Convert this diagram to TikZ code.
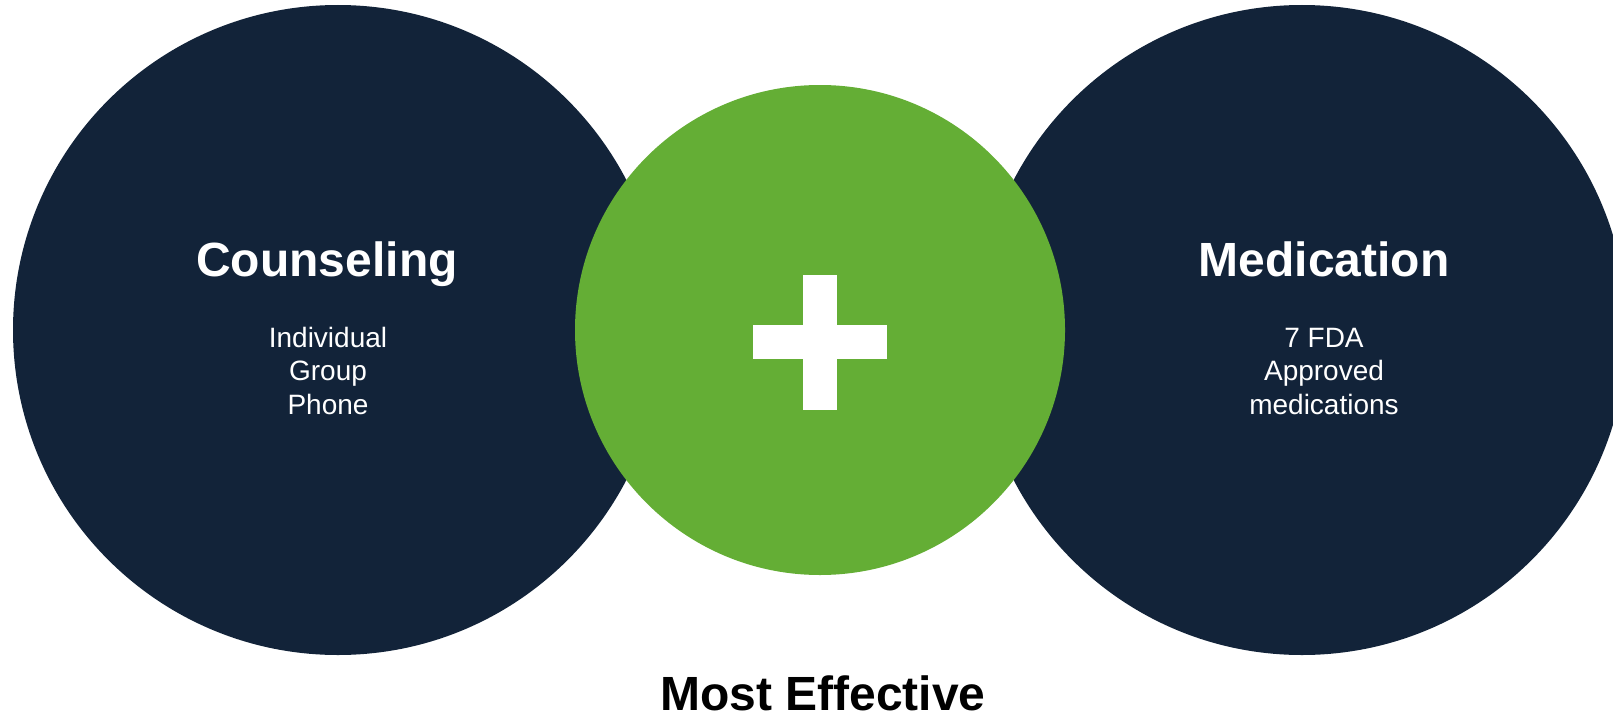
\documentclass[tikz,border=0pt]{standalone}
\usepackage{fontspec}
\setmainfont{Liberation Sans}
\usetikzlibrary{positioning}
\definecolor{navy}{HTML}{122339}
\definecolor{leaf}{HTML}{64AE35}

\tikzset{
  bigdot/.style={circle, fill=navy, minimum size=650pt, inner sep=0pt},
  middot/.style={circle, fill=leaf, minimum size=490pt, inner sep=0pt},
  head/.style={text=white, font=\fontsize{48}{52}\selectfont\bfseries, anchor=base, inner sep=0pt},
  items/.style={text=white, font=\fontsize{28}{33.7}\selectfont, align=center, anchor=base, inner sep=0pt}
}

\begin{document}
\begin{tikzpicture}[x=1pt,y=-1pt]
	\clip (0,0) rectangle (1613,717);
	\node[bigdot] (C) at (338,330) {};
	\node[bigdot] (M) at (1302,330) {};
	\node[middot] (P) at (820,330) {};
	\begin{scope}[shift={(P.center)}]
	\fill[white] (-17,-55.5) rectangle (17,79.5);
	\fill[white] (-67,-5) rectangle (67,29);
	\end{scope}
	\node[head] (Ctag) at (327,276) {Counseling};
	\node[items] (Clist) at (328,414.5) {Individual\\Group\\Phone};
	\node[head] (Mtag) at (1324,276) {Medication};
	\node[items] (Mlist) at (1324,414.5) {7 FDA\\Approved\\medications};
	\node[head, text=black] (best) at (823,710) {Most Effective};
\end{tikzpicture}
\end{document}
